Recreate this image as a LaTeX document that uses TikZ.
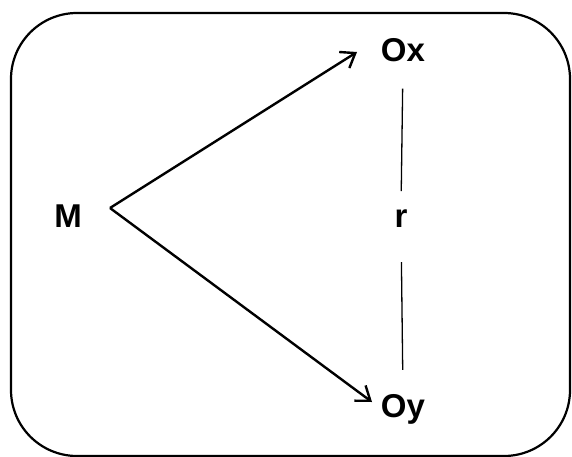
\documentclass[tikz,border=0pt]{standalone}
\usepackage{fontspec}
\setmainfont{Liberation Sans}
\usetikzlibrary{arrows.meta}
\begin{document}
\begin{tikzpicture}[x=1pt,y=-1pt,
  lbl/.style={font=\fontsize{33}{33}\selectfont\bfseries, inner sep=0pt, anchor=base},
  arr/.style={line width=2.4pt, -{Straight Barb[length=13pt,width=19pt,line width=2.4pt]}},
  rel/.style={line width=1.3pt}]
\useasboundingbox (0,0) rectangle (572,457);
\draw[line width=2.2pt, rounded corners=66pt] (11,13) rectangle (570,456);
\node[lbl] (M) at (68,227) {M};
\node[lbl] (Ox) at (403,62) {Ox};
\node[lbl] (Oy) at (403,417) {Oy};
\node[lbl] (r) at (401,227) {r};
\coordinate (apex) at (110,208);
\coordinate (tx) at (357,52);
\coordinate (ty) at (372,402);
\draw[arr] (apex) -- (tx);
\draw[arr] (apex) -- (ty);
\draw[rel, shorten <=26pt, shorten >=18pt] (Ox.south) -- (r.north);
\draw[rel, shorten <=35pt, shorten >=24pt] (r.south) -- (Oy.north);
\end{tikzpicture}
\end{document}
